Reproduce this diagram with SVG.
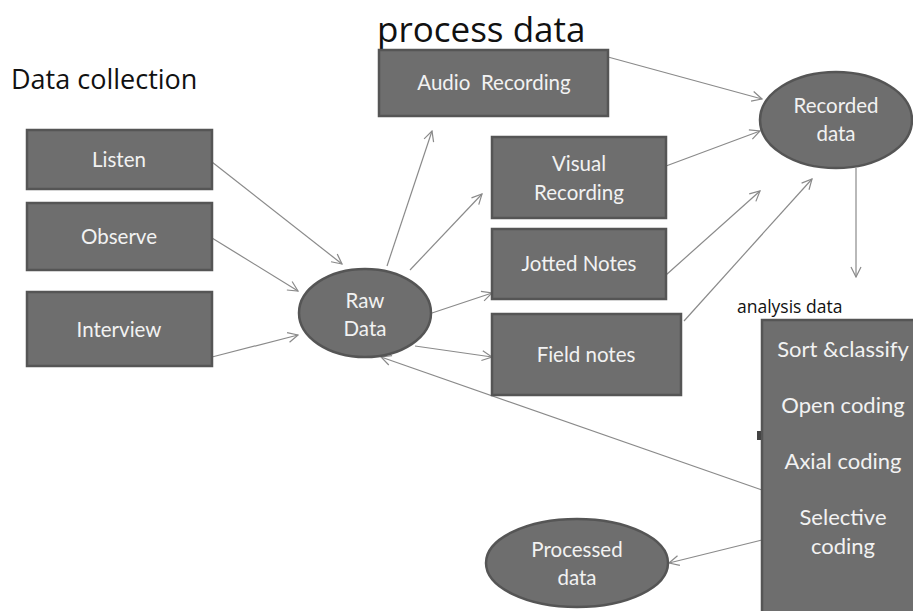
<svg xmlns="http://www.w3.org/2000/svg" width="913" height="611" viewBox="0 0 913 611">
<defs>
<marker id="ah" viewBox="0 0 12 12" refX="11" refY="6" markerWidth="12" markerHeight="12" markerUnits="userSpaceOnUse" orient="auto">
<path d="M1,1 L11,6 L1,11" fill="none" stroke="#8a8a8a" stroke-width="1.2"/>
</marker>
<style>
.box{fill:#6e6e6e;stroke:#555;stroke-width:2.5}
.lbl{font-family:Lato,"Open Sans","Liberation Sans",sans-serif;fill:#f2f2f2;font-size:20.5px;text-anchor:middle}
.big{font-size:22px}
.ttl{font-family:"Open Sans","Liberation Sans",sans-serif;fill:#111}
.con{stroke:#8a8a8a;stroke-width:1.2;fill:none;marker-end:url(#ah)}
</style>
</defs>
<rect width="913" height="611" fill="#fff"/>
<text class="ttl" x="377" y="42" font-size="35">process data</text>
<text class="ttl" x="11" y="89" font-size="27">Data collection</text>
<text class="ttl" x="737" y="313" font-size="17.5">analysis data</text>

<g id="connectors">
<path class="con" d="M212,162 L342,264"/>
<path class="con" d="M212,238 L298,291"/>
<path class="con" d="M212,357 L298,335"/>
<path class="con" d="M387,266 L432,131"/>
<path class="con" d="M410,270 L482,194"/>
<path class="con" d="M432,313 L492,293"/>
<path class="con" d="M415,346 L492,357"/>
<path class="con" d="M608,57 L762,99"/>
<path class="con" d="M666,166 L760,131"/>
<path class="con" d="M666,275 L760,191"/>
<path class="con" d="M684,321 L812,179"/>
<path class="con" d="M856,168 L856,277"/>
<path class="con" d="M762,490 L381,357"/>
<path class="con" d="M762,540 L669,563"/>
</g>

<g id="listen"><rect class="box" x="27" y="130" width="185" height="59"/><text class="lbl" x="119" y="167">Listen</text></g>
<g id="observe"><rect class="box" x="27" y="203" width="185" height="67"/><text class="lbl" x="119" y="244">Observe</text></g>
<g id="interview"><rect class="box" x="27" y="292" width="185" height="74"/><text class="lbl" x="119" y="337">Interview</text></g>
<g id="raw"><ellipse class="box" cx="365" cy="313" rx="66" ry="44"/><text class="lbl" x="365" y="308">Raw</text><text class="lbl" x="365" y="336">Data</text></g>
<g id="audio"><rect class="box" x="379" y="50" width="229" height="66"/><text class="lbl" x="494" y="90" xml:space="preserve">Audio  Recording</text></g>
<g id="visual"><rect class="box" x="492" y="137" width="174" height="81"/><text class="lbl" x="579" y="171">Visual</text><text class="lbl" x="579" y="200">Recording</text></g>
<g id="jotted"><rect class="box" x="492" y="229" width="174" height="70"/><text class="lbl" x="579" y="271">Jotted Notes</text></g>
<g id="field"><rect class="box" x="492" y="314" width="189" height="81"/><text class="lbl" x="586" y="362">Field notes</text></g>
<g id="recorded"><ellipse class="box" cx="836" cy="120" rx="76" ry="48"/><text class="lbl" x="836" y="113">Recorded</text><text class="lbl" x="836" y="141">data</text></g>
<g id="analysis"><rect class="box" x="762" y="320" width="160" height="300"/>
<text class="lbl big" x="843" y="357">Sort &amp;classify</text>
<text class="lbl big" x="843" y="413">Open coding</text>
<text class="lbl big" x="843" y="469">Axial coding</text>
<text class="lbl big" x="843" y="525">Selective</text>
<text class="lbl big" x="843" y="554">coding</text>
<rect x="757" y="431" width="4" height="9" fill="#444"/>
</g>
<g id="processed"><ellipse class="box" cx="577" cy="563" rx="91" ry="44"/><text class="lbl" x="577" y="557">Processed</text><text class="lbl" x="577" y="585">data</text></g>
</svg>
